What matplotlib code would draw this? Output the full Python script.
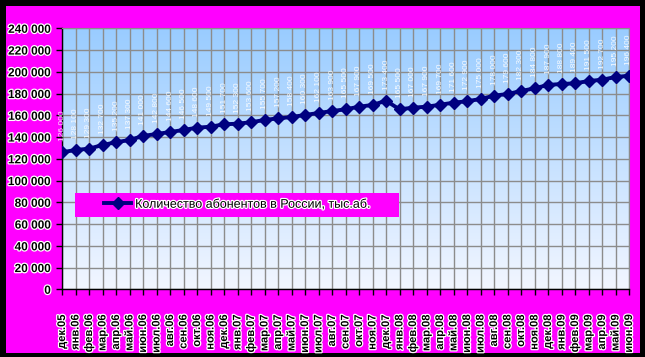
import numpy as np
import matplotlib
matplotlib.use("Agg")
from matplotlib import pyplot as plt
from matplotlib import patheffects as pe
from matplotlib.patches import Rectangle
from matplotlib.ticker import FuncFormatter, MultipleLocator

# --- data (thousand subscribers) ---
months = ['дек.05', 'янв.06', 'фев.06', 'мар.06', 'апр.06', 'май.06', 'июн.06',
          'июл.06', 'авг.06', 'сен.06', 'окт.06', 'ноя.06', 'дек.06',
          'янв.07', 'фев.07', 'мар.07', 'апр.07', 'май.07', 'июн.07',
          'июл.07', 'авг.07', 'сен.07', 'окт.07', 'ноя.07', 'дек.07',
          'янв.08', 'фев.08', 'мар.08', 'апр.08', 'май.08', 'июн.08',
          'июл.08', 'авг.08', 'сен.08', 'окт.08', 'ноя.08', 'дек.08',
          'янв.09', 'фев.09', 'мар.09', 'апр.09', 'май.09', 'июн.09']
subscribers = [126000, 128100, 129300, 132700, 135200, 137300, 141000,
               142800, 144600, 146500, 148600, 149500, 151700,
               152300, 153600, 155700, 157200, 158400, 160300,
               162100, 163900, 165500, 167900, 169500, 173400,
               165500, 167000, 167900, 169700, 171600, 172900,
               175000, 178000, 179600, 182300, 184800, 187900,
               188800, 189400, 191500, 192700, 195200, 196400]
series_name = 'Количество абонентов в России, тыс.аб.'

plt.rcParams['font.family'] = ['Liberation Sans', 'DejaVu Sans']

MAGENTA = '#FF00FF'
NAVY = '#000080'
halo = [pe.withStroke(linewidth=1.8, foreground='white')]

fig = plt.figure(figsize=(6.45, 3.57), dpi=100, facecolor='black')
fig.patches.append(Rectangle((6/645, 4/357), 634/645, 347/357,
                             transform=fig.transFigure, facecolor=MAGENTA,
                             edgecolor='none', zorder=-10))

ax = fig.add_axes([62/645, 1 - 289.3/357, 567/645, 261/357])
ax.set_facecolor('white')

# gradient background of the plot area
grad = np.linspace(0, 1, 256).reshape(-1, 1)
top = np.array([153, 204, 255]) / 255.0
bot = np.array([242, 246, 255]) / 255.0
img = top * (1 - grad)[..., None] + bot * grad[..., None]
ax.imshow(img, extent=[0, 1, 0, 1], transform=ax.transAxes, aspect='auto',
          zorder=0)

x = np.arange(len(months))
ax.plot(x, subscribers, color=NAVY, lw=2.8, marker='D', ms=6,
        mec=NAVY, mfc=NAVY, zorder=3, label=series_name)

for xi, v in zip(x, subscribers):
    ax.annotate('{:,}'.format(v).replace(',', ' '), (xi, v),
                xytext=(0, 8), textcoords='offset points', rotation=90,
                ha='center', va='bottom', fontsize=6, color='white',
                alpha=0.9, zorder=4)

ax.set_xlim(0, len(months) - 1)
ax.set_ylim(0, 240000)
ax.yaxis.set_major_locator(MultipleLocator(20000))
ax.yaxis.set_major_formatter(FuncFormatter(lambda v, p: '{:,}'.format(int(v)).replace(',', ' ')))
ax.set_xticks(x)
ax.set_xticklabels(months, rotation=90)

ax.grid(True, color='#8c8c8c', lw=1)
for gl in ax.get_xgridlines() + ax.get_ygridlines():
    gl.set_zorder(1)

for s in ['top', 'right']:
    ax.spines[s].set_color('#8c8c8c')
for s in ['left', 'bottom']:
    ax.spines[s].set_color('black')
    ax.spines[s].set_linewidth(1)

ax.tick_params(axis='y', direction='out', length=4, width=1, pad=4,
               labelsize=8.5)
ax.tick_params(axis='x', direction='out', length=4, width=1, pad=14,
               labelsize=8)
for lab in ax.get_xticklabels() + ax.get_yticklabels():
    lab.set_fontweight('bold')
    lab.set_path_effects(halo)

# legend on a magenta box inside the plot
ax.add_patch(Rectangle((0.023, 0.278), 0.571, 0.092, transform=ax.transAxes,
                       facecolor=MAGENTA, edgecolor='none', zorder=5))
leg = ax.legend(loc='center', bbox_to_anchor=(0.023 + 0.571/2, 0.278 + 0.046),
                frameon=False, fontsize=9, handlelength=2.2,
                handletextpad=0.3)
leg.set_zorder(6)
for t in leg.get_texts():
    t.set_path_effects(halo)

fig.savefig('out.png', dpi=100, facecolor=fig.get_facecolor())
